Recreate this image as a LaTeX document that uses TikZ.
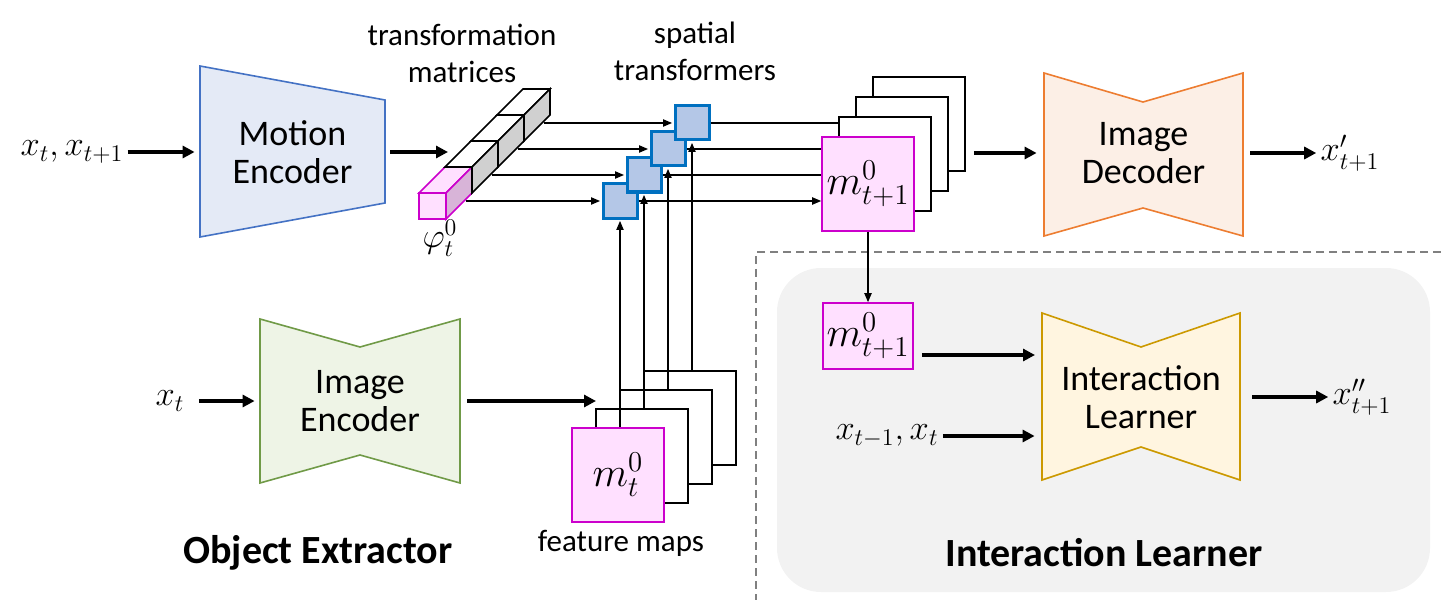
\documentclass[tikz,border=0pt]{standalone}
\usepackage{amsmath}
\usepackage{fontspec}
\setmainfont{Carlito}
\usetikzlibrary{positioning,arrows.meta}

\definecolor{pinkfill}{RGB}{255,224,255}
\definecolor{pinkline}{RGB}{204,0,204}
\definecolor{pinkside}{RGB}{216,180,216}
\definecolor{cellside}{RGB}{208,208,208}
\definecolor{stfill}{RGB}{180,199,231}
\definecolor{stline}{RGB}{0,112,192}
\definecolor{mefill}{RGB}{228,234,246}
\definecolor{meline}{RGB}{68,114,196}
\definecolor{iefill}{RGB}{238,244,230}
\definecolor{ieline}{RGB}{112,154,71}
\definecolor{idfill}{RGB}{252,239,230}
\definecolor{idline}{RGB}{237,125,49}
\definecolor{ilfill}{RGB}{255,245,224}
\definecolor{illine}{RGB}{204,153,0}
\definecolor{panel}{RGB}{242,242,242}
\definecolor{dashgray}{RGB}{128,128,128}

\tikzset{
  bigarr/.style={-{Triangle[length=6pt,width=6pt]}, line width=1.7pt},
  smallarr/.style={-{Triangle[length=4.5pt,width=3.6pt]}, line width=0.7pt},
  block/.style={align=center, inner sep=0pt, font=\fontsize{18}{19}\selectfont},
  mathlabel/.style={inner sep=2pt, font=\fontsize{18}{20}\selectfont},
  smalltext/.style={align=center, inner sep=0pt, font=\fontsize{15.5}{18.5}\selectfont},
  title/.style={inner sep=0pt, font=\bfseries\fontsize{20}{24}\selectfont},
  card/.style={draw, fill=white, line width=0.8pt, minimum width=46pt, minimum height=47pt, inner sep=0pt},
  pinkcard/.style={card, draw=pinkline, fill=pinkfill, font=\fontsize{20}{22}\selectfont},
  stbox/.style={draw=stline, fill=stfill, line width=1.5pt, minimum size=17pt, inner sep=0pt},
}

\begin{document}
\begin{tikzpicture}[x=0.5pt,y=-0.5pt]
\useasboundingbox (0,0) rectangle (1441,610);

\fill[panel, rounded corners=22pt] (777,268) rectangle (1430,592);
\draw[dashgray, line width=1pt, dash pattern=on 4pt off 2.5pt] (1441,252) -- (756,252) -- (756,600);

\filldraw[fill=mefill, draw=meline, line width=0.8pt] (200,66) -- (385,100) -- (385,203) -- (200,237) -- cycle;
\node[block, minimum width=92.5pt, minimum height=85pt] (menc) at (292.5,152) {Motion\\Encoder};
\node[mathlabel] (xin) at (72,152) {$x_t,x_{t+1}$};
\draw[bigarr, shorten >=2.5pt] (xin) -- (menc);

\filldraw[fill=pinkfill, draw=pinkline, line width=0.8pt] (419,193) rectangle (446,219);
\filldraw[fill=pinkfill, draw=pinkline, line width=0.8pt] (419,193) -- (446,193) -- (472,167) -- (445,167) -- cycle;
\filldraw[fill=pinkside, draw=pinkline, line width=0.8pt] (446,193) -- (472,167) -- (472,193) -- (446,219) -- cycle;
\filldraw[fill=white, line width=0.8pt] (445,167) -- (472,167) -- (498,141) -- (471,141) -- cycle;
\filldraw[fill=white, line width=0.8pt] (471,141) -- (498,141) -- (524,115) -- (497,115) -- cycle;
\filldraw[fill=white, line width=0.8pt] (497,115) -- (524,115) -- (550,89) -- (523,89) -- cycle;
\filldraw[fill=cellside, line width=0.8pt] (472,167) -- (498,141) -- (498,167) -- (472,193) -- cycle;
\filldraw[fill=cellside, line width=0.8pt] (498,141) -- (524,115) -- (524,141) -- (498,167) -- cycle;
\filldraw[fill=cellside, line width=0.8pt] (524,115) -- (550,89) -- (550,115) -- (524,141) -- cycle;
\node[mathlabel] (phi) at (440,238) {$\varphi_t^0$};

\coordinate (barin) at (448,152);
\draw[bigarr, shorten <=2.5pt] (menc) -- (barin);

\node[smalltext] (tmlabel) at (462,53) {transformation\\matrices};
\node[smalltext] (stlabel) at (695,51) {spatial\\transformers};

\node[stbox] (st1) at (620,201) {};
\node[stbox] (st2) at (644,175) {};
\node[stbox] (st3) at (668,149) {};
\node[stbox] (st4) at (692,123) {};

\coordinate (b1) at (466,201);
\coordinate (b2) at (492,175);
\coordinate (b3) at (518,149);
\coordinate (b4) at (544,123);
\draw[smallarr, shorten >=0.7pt] (b1) -- (st1);
\draw[smallarr, shorten >=0.7pt] (b2) -- (st2);
\draw[smallarr, shorten >=0.7pt] (b3) -- (st3);
\draw[smallarr, shorten >=0.7pt] (b4) -- (st4);

\node[card] (tc3) at (919,124) {};
\node[card] (tc2) at (902,144) {};
\node[card] (tc1) at (885,164) {};
\node[pinkcard] (mtop) at (868,184) {$m^0_{t+1}$};

\draw[line width=0.7pt] (st4) -- (st4 -| tc1.west);
\draw[line width=0.7pt] (st3) -- (st3 -| mtop.west);
\draw[line width=0.7pt] (st2) -- (st2 -| mtop.west);
\draw[smallarr] (st1) -- (st1 -| mtop.west);

\node[card] (fm3) at (690,418) {};
\node[card] (fm2) at (666,437) {};
\node[card] (fm1) at (642,456) {};
\node[pinkcard] (mbot) at (618,475) {$m^0_t$};
\node[smalltext] (fmlabel) at (621,543) {feature maps};

\draw[smallarr, shorten >=0.7pt] (st1 |- mbot.north) -- (st1);
\draw[smallarr, shorten >=0.7pt] (st2 |- fm1.north) -- (st2);
\draw[smallarr, shorten >=0.7pt] (st3 |- fm2.north) -- (st3);
\draw[smallarr, shorten >=0.7pt] (st4 |- fm3.north) -- (st4);

\filldraw[fill=iefill, draw=ieline, line width=0.8pt] (260,319) -- (360,347) -- (460,319) -- (460,483) -- (360,455) -- (260,483) -- cycle;
\node[block, minimum width=100pt, minimum height=82pt] (ienc) at (360,401) {Image\\Encoder};
\node[mathlabel] (xt) at (170,401) {$x_t$};
\draw[bigarr, shorten <=5pt, shorten >=2.5pt] (xt) -- (ienc);
\coordinate (fmin) at (596,401);
\draw[bigarr, shorten <=3.5pt] (ienc) -- (fmin);

\filldraw[fill=idfill, draw=idline, line width=0.8pt] (1044,73) -- (1143,102) -- (1243,73) -- (1243,236) -- (1143,208) -- (1044,236) -- cycle;
\node[block, minimum width=99.5pt, minimum height=81.5pt] (idec) at (1143.5,153) {Image\\Decoder};
\draw[bigarr, shorten <=4pt, shorten >=3.5pt] (tc3.east |- idec) -- (idec);
\node[mathlabel] (xout) at (1350,153) {$x'_{t+1}$};
\draw[bigarr, shorten <=3.5pt] (idec) -- (xout);

\node[pinkcard, minimum width=45pt, minimum height=33pt] (mil) at (868,336) {$m^0_{t+1}$};
\draw[smallarr] (mtop) -- (mil);

\filldraw[fill=ilfill, draw=illine, line width=0.8pt] (1042,313) -- (1141,347) -- (1240,313) -- (1240,480) -- (1141,447) -- (1042,480) -- cycle;
\node[block, minimum width=99pt, minimum height=83.5pt] (ilearn) at (1141,397) {Interaction\\Learner};
\coordinate (ilin) at (1042,355);
\draw[bigarr, shorten <=4pt, shorten >=3.5pt] (mil.east |- ilin) -- (ilin);
\node[mathlabel] (xprev) at (887,436) {$x_{t-1},x_t$};
\draw[bigarr, shorten >=3.5pt] (xprev) -- (xprev -| ilearn.west);
\node[mathlabel] (xout2) at (1362,397) {$x''_{t+1}$};
\draw[bigarr, shorten <=6pt] (ilearn) -- (xout2);

\node[title] (objtitle) at (318,553) {Object Extractor};
\node[title] (iltitle) at (1104,553) {Interaction Learner};
\end{tikzpicture}
\end{document}
